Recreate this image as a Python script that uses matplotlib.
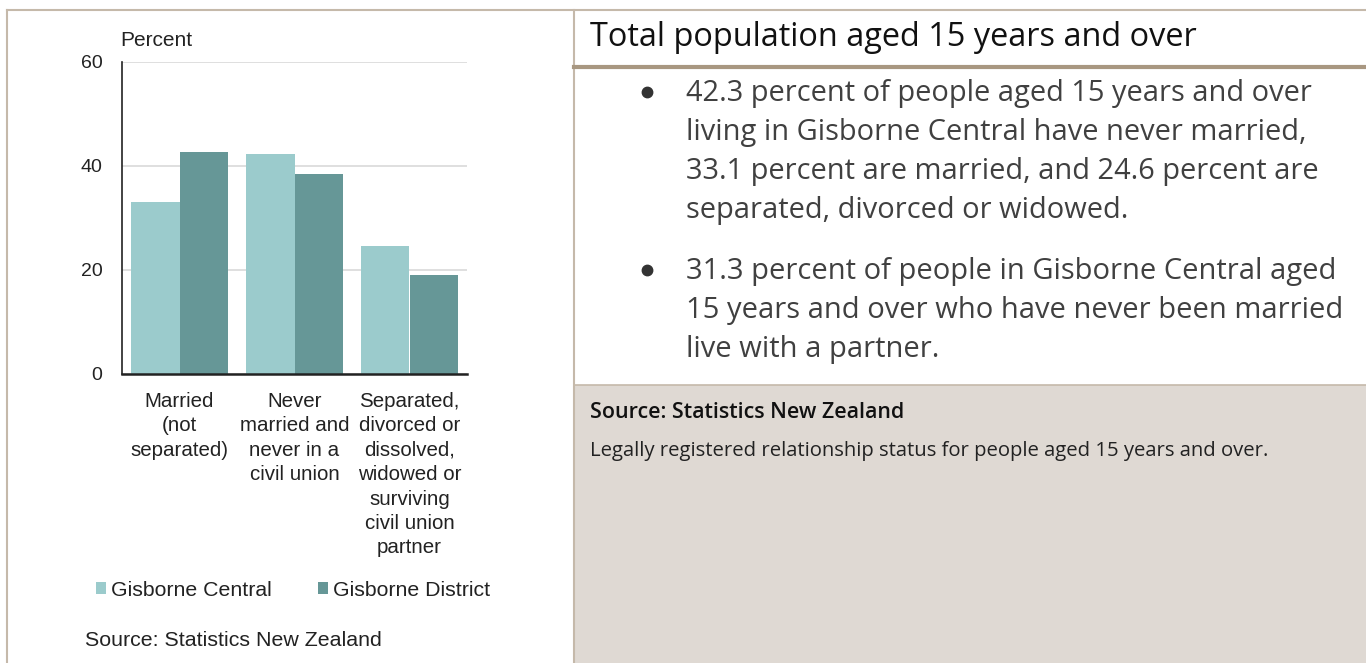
import matplotlib
matplotlib.use("Agg")
import matplotlib.pyplot as plt
import numpy as np
from matplotlib.patches import Rectangle
from matplotlib.lines import Line2D

categories = ["Married\n(not\nseparated)",
              "Never\nmarried and\nnever in a\ncivil union",
              "Separated,\ndivorced or\ndissolved,\nwidowed or\nsurviving\ncivil union\npartner"]
series_names = ["Gisborne Central", "Gisborne District"]
central = [33.1, 42.3, 24.6]
district = [42.6, 38.4, 19.0]
yticks = [0, 20, 40, 60]

title = "Total population aged 15 years and over"
bullets = ["42.3 percent of people aged 15 years and over\nliving in Gisborne Central have never married,\n33.1 percent are married, and 24.6 percent are\nseparated, divorced or widowed.",
           "31.3 percent of people in Gisborne Central aged\n15 years and over who have never been married\nlive with a partner."]
source = "Source: Statistics New Zealand"
note = "Legally registered relationship status for people aged 15 years and over."

W, H = 1366, 663
light = "#9bcbcc"
dark = "#669797"
border = "#c5b9aa"
chart_font = "Liberation Sans"
text_font = ["Open Sans", "DejaVu Sans"]

fig = plt.figure(figsize=(W/100, H/100), dpi=100)
renderer = fig.canvas.get_renderer()

def fx(x):
    return x / W

def fy(y):
    return 1 - y / H

def fit(t, width_px):
    # scale font so that the text block is width_px wide
    w = t.get_window_extent(renderer).width
    t.set_fontsize(t.get_fontsize() * width_px / w)

# panels and borders
fig.patches.append(Rectangle((fx(574), 0), fx(W-574), fy(385), transform=fig.transFigure,
                             facecolor="#dfd9d3", edgecolor="none", zorder=0))
for (x0, y0, x1, y1, lw, c) in [(7, 10, W, 10, 1.5, border),
                                (7, 10, 7, H, 1.5, border),
                                (574, 10, 574, H, 1.5, border),
                                (574, 67, W, 67, 3, "#a89781"),
                                (574, 385, W, 385, 1.2, border)]:
    fig.add_artist(Line2D([fx(x0), fx(x1)], [fy(y0), fy(y1)], transform=fig.transFigure,
                          color=c, lw=lw))

# bar chart
ax = fig.add_axes([fx(122), fy(374), fx(345), 312/H])
x = np.arange(len(categories))
bw = 0.418
ax.bar(x - bw/2, central, bw, color=light, label=series_names[0], zorder=2)
ax.bar(x + bw/2, district, bw, color=dark, label=series_names[1], zorder=2)
ax.set_xlim(-0.5, 2.5)
ax.set_ylim(0, 60)
ax.set_yticks(yticks)
ax.set_yticklabels([str(t) for t in yticks], fontfamily=chart_font, fontsize=14, color="#222222")
ax.set_xticks(x)
ax.set_xticklabels(categories, fontfamily=chart_font, fontsize=14.8, color="#222222",
                   linespacing=1.36, va="top")
ax.tick_params(length=0, pad=14)
ax.tick_params(axis="x", pad=13)
ax.grid(axis="y", color="#d9d9d9", lw=1.2, zorder=0)
for s in ["top", "right"]:
    ax.spines[s].set_visible(False)
ax.spines["left"].set_color("#222222")
ax.spines["left"].set_linewidth(1.2)
ax.spines["bottom"].set_color("#222222")
ax.spines["bottom"].set_linewidth(1.8)
ax.text(fx(120), fy(41), "Percent", transform=fig.transFigure, fontfamily=chart_font,
        fontsize=15, color="#222222", va="center")

leg = fig.legend(loc="center left", bbox_to_anchor=(fx(96), fy(590)), ncol=2, frameon=False,
                 prop={"family": chart_font, "size": 15.3}, handlelength=0.45, handleheight=0.45,
                 handletextpad=0.25, columnspacing=2.2, borderaxespad=0, borderpad=0)
for t in leg.get_texts():
    t.set_color("#222222")
s0 = fig.text(fx(85), fy(641), source, fontfamily=chart_font, fontsize=14.5, color="#222222",
              va="center")
fit(s0, 298)

# right side text
t = fig.text(fx(590), fy(37), title, fontfamily=text_font, fontsize=20, color="#111111", va="center")
fit(t, 608)
for yb in [92, 270]:
    fig.add_artist(Line2D([fx(647)], [fy(yb)], transform=fig.transFigure, marker="o",
                          markersize=7.5, color="#333333", linestyle="none"))
b1 = fig.text(fx(686), fy(79), bullets[0], fontfamily=text_font, fontsize=18, color="#404040",
              va="top", linespacing=1.45)
fit(b1, 632)
b2 = fig.text(fx(686), fy(257), bullets[1], fontfamily=text_font, fontsize=18, color="#404040",
              va="top", linespacing=1.45)
fit(b2, 655)
s = fig.text(fx(590), fy(413), source, fontfamily=text_font, fontsize=13, color="#111111",
             va="center", fontweight="semibold")
fit(s, 313)
n = fig.text(fx(590), fy(451), note, fontfamily=text_font, fontsize=12.5, color="#222222", va="center")
fit(n, 681)

fig.savefig("out.png", dpi=100)
